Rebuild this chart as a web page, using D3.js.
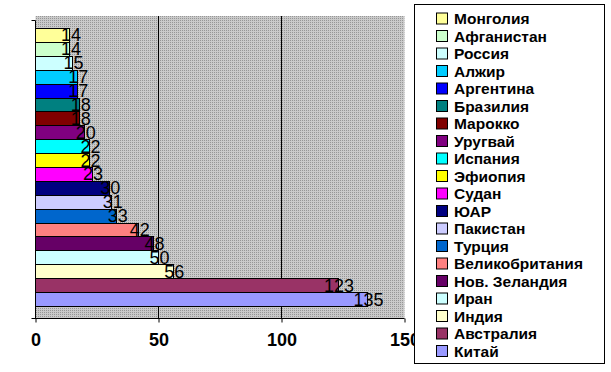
<!DOCTYPE html>
<html>
<head>
<meta charset="utf-8">
<script src="https://cdn.jsdelivr.net/npm/d3@7"></script>
<style>
    body { margin: 0; background: #fff; }
    svg { display: block; }
</style>
</head>
<body>
<div id="chart"></div>
<script>
// top to bottom, as drawn
var countries = ["Монголия", "Афганистан", "Россия", "Алжир", "Аргентина", "Бразилия", "Марокко", "Уругвай", "Испания", "Эфиопия",
    "Судан", "ЮАР", "Пакистан", "Турция", "Великобритания", "Нов. Зеландия", "Иран", "Индия", "Австралия", "Китай"];
var values = [14, 14, 15, 17, 17, 18, 18, 20, 22, 22, 23, 30, 31, 33, 42, 48, 50, 56, 123, 135];
var colors = ["#ffff99", "#ccffcc", "#ccffff", "#00ccff", "#0000ff", "#008080", "#800000", "#800080", "#00ffff", "#ffff00",
    "#ff00ff", "#000080", "#ccccff", "#0066cc", "#ff8080", "#660066", "#ccffff", "#ffffcc", "#993366", "#9999ff"];
var xTicks = [0, 50, 100, 150];

var width = 611, height = 372;
var plotLeft = 35.5, plotRight = 404.5, plotTop = 16, plotBottom = 318.5;
var font = "Arial, 'Liberation Sans', sans-serif";

var svg = d3.select("#chart")
    .append("svg")
    .attr("width", width)
    .attr("height", height);

var pat = svg.append("defs")
    .append("pattern")
    .attr("id", "dots")
    .attr("width", 2)
    .attr("height", 2)
    .attr("patternUnits", "userSpaceOnUse");
pat.append("rect").attr("width", 2).attr("height", 2).attr("fill", "#cacaca");
pat.append("rect").attr("width", 1).attr("height", 1).attr("fill", "#969696");

var x = d3.scaleLinear([0, 150], [plotLeft, plotRight]);
var y = d3.scaleBand(countries, [18, 316]).paddingInner(0).paddingOuter(0.72);

// plot area
svg.append("rect")
    .attr("x", plotLeft)
    .attr("y", plotTop)
    .attr("width", plotRight - plotLeft)
    .attr("height", plotBottom - plotTop)
    .attr("fill", "url(#dots)");

svg.append("g")
    .selectAll("line")
    .data([50, 100])
    .enter()
    .append("line")
        .attr("x1", function (d) { return Math.round(x(d)) + 0.5; })
        .attr("x2", function (d) { return Math.round(x(d)) + 0.5; })
        .attr("y1", plotTop)
        .attr("y2", plotBottom)
        .attr("stroke", "#000")
        .attr("stroke-width", 1);

// bars
svg.append("g")
    .selectAll("rect")
    .data(countries)
    .enter()
    .append("rect")
        .attr("x", x(0))
        .attr("y", function (c) { return Math.round(y(c)) + 0.5; })
        .attr("width", function (c, i) { return Math.round(x(values[i]) - x(0)); })
        .attr("height", Math.round(y.bandwidth()))
        .attr("fill", function (c, i) { return colors[i]; })
        .attr("stroke", "#000")
        .attr("stroke-width", 1);

// axes
var axisX = d3.axisBottom(x).tickValues(xTicks).tickSize(4).tickPadding(11);
var gx = svg.append("g")
    .attr("transform", `translate(0,${plotBottom})`)
    .call(axisX);
gx.select(".domain").attr("d", `M${plotLeft - 4},0H${plotRight}`).attr("stroke", "#000");
gx.selectAll(".tick line").attr("stroke", "#000");
gx.selectAll(".tick text")
    .attr("font-family", font)
    .attr("font-size", "18px")
    .attr("font-weight", "bold")
    .attr("fill", "#000");

svg.append("path")
    .attr("d", `M${plotLeft},${plotBottom}V20.5H${plotLeft - 4}`)
    .attr("fill", "none")
    .attr("stroke", "#000");

// data labels
svg.append("g")
    .selectAll("text")
    .data(countries)
    .enter()
    .append("text")
        .attr("x", function (c, i) { return x(values[i]) + 1; })
        .attr("y", function (c) { return y(c) + y.bandwidth() / 2; })
        .attr("dy", "0.36em")
        .attr("text-anchor", "middle")
        .attr("font-family", font)
        .attr("font-size", "18px")
        .attr("fill", "#000")
        .text(function (c, i) { return values[i]; });

// legend
var legend = svg.append("g");
legend.append("rect")
    .attr("x", 414.5)
    .attr("y", 4.5)
    .attr("width", 190)
    .attr("height", 359)
    .attr("fill", "#fff")
    .attr("stroke", "#000");

var item = legend.selectAll("g.item")
    .data(countries)
    .enter()
    .append("g")
        .attr("class", "item")
        .attr("transform", function (c, i) { return `translate(0,${18.5 + i * 17.5})`; });

item.append("rect")
    .attr("x", 436.5)
    .attr("y", -5.5)
    .attr("width", 11)
    .attr("height", 11)
    .attr("fill", function (c, i) { return colors[i]; })
    .attr("stroke", "#000");

item.append("text")
    .attr("x", 454)
    .attr("dy", "0.36em")
    .attr("font-family", font)
    .attr("font-size", "15.5px")
    .attr("font-weight", "bold")
    .attr("fill", "#000")
    .text(function (c) { return c; });
</script>
</body>
</html>
